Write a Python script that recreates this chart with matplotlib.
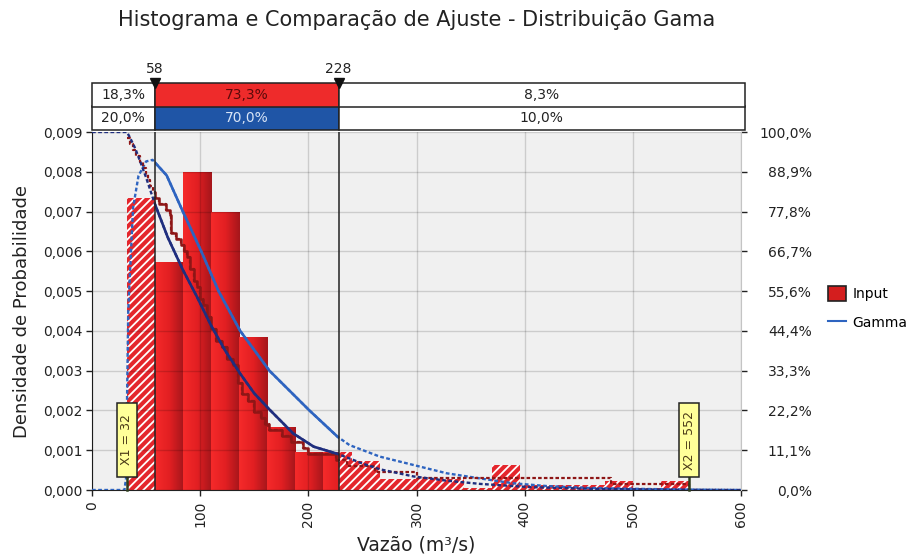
import numpy as np
import matplotlib
matplotlib.use("Agg")
import matplotlib.pyplot as plt
from matplotlib.patches import Rectangle, Patch
from matplotlib.lines import Line2D
from matplotlib.colors import LinearSegmentedColormap
from matplotlib.ticker import FixedLocator, FuncFormatter

plt.rcParams['font.family'] = ['DejaVu Sans']
plt.rcParams['hatch.linewidth'] = 1.3

# ---------------- data ----------------
# histogram of the input sample (m3/s) as probability density
bin_edges = [32, 58, 84, 110, 136, 162, 188, 214, 240, 266, 292,
             318, 344, 370, 396, 422, 448, 474, 500, 526, 552]
bin_density = [0.00734, 0.00573, 0.00800, 0.00700, 0.00384, 0.00158,
               0.00095, 0.00095, 0.00072, 0.00028, 0.00028, 0.00028,
               0.00004, 0.00062, 0.00012, 0.00012, 0.00012, 0.00022,
               0.00006, 0.00023]

# fitted Gamma density
gamma_pdf_x = [0, 30, 31.5, 32.5, 33.5, 35, 38, 43, 50, 56, 60, 69, 84,
               101, 117, 137, 164, 201, 227, 238, 266, 297, 328, 359,
               389, 420, 460, 500, 552, 600]
gamma_pdf_y = [0, 0, 0.0003, 0.0025, 0.0045, 0.0054, 0.0071, 0.0079,
               0.00826, 0.00830, 0.00818, 0.00791, 0.0070, 0.0060,
               0.0050, 0.0040, 0.0030, 0.0020, 0.00134, 0.00113,
               0.00084, 0.00063, 0.00042, 0.00029, 0.00017, 0.0001,
               0.00005, 0.00003, 0.00001, 0]

# fitted Gamma descending cumulative (%)
gamma_cdf_x = [0, 32, 33, 35, 40, 45, 50, 58, 70, 84, 97, 110, 123, 137,
               150, 164, 186, 205, 228, 250, 266, 297, 328, 359, 405,
               460, 520, 600]
gamma_cdf_pct = [100, 100, 99.6, 98.5, 95.4, 91.4, 87.3, 80, 70.6, 61.5,
                 54, 46, 39, 32.5, 27, 22.5, 15.8, 12.1, 10, 7.4, 5.8,
                 3.8, 2.6, 1.7, 0.8, 0.35, 0.12, 0]

# input descending cumulative (%), step positions
input_cdf_x = [32, 35, 38, 41, 44, 47, 50, 52, 54, 56, 58, 62, 68, 72,
               73, 78, 82, 85, 88, 91, 94, 97, 100, 103, 106, 110, 115,
               120, 125, 130, 135, 139, 144, 150, 156, 160, 164, 176,
               184, 195, 200, 226, 236, 262, 300, 480, 552]
input_cdf_pct = [98.3, 96.7, 95.0, 93.3, 91.7, 90.0, 88.3, 86.7, 85.0,
                 83.3, 81.7, 80.0, 78.3, 76.7, 71.7, 70.0, 68.3, 66.7,
                 65.0, 61.7, 58.3, 56.7, 53.3, 51.7, 48.3, 45.0, 41.7,
                 40.0, 36.7, 35.0, 30.0, 26.7, 25.0, 21.7, 20.0, 18.3,
                 16.7, 15.0, 13.3, 11.7, 10.0, 8.3, 6.7, 5.0, 3.3, 1.7, 0.0]

# delimiters and probabilities of the three regions
delim_low, delim_high = 58, 228
input_probs = ["18,3%", "73,3%", "8,3%"]
gamma_probs = ["20,0%", "70,0%", "10,0%"]
x_min_label, x_max_label = 32, 552

x_ticks = [0, 100, 200, 300, 400, 500, 600]
y_ticks = [0.000, 0.001, 0.002, 0.003, 0.004, 0.005, 0.006, 0.007, 0.008, 0.009]
pct_ticks = list(np.linspace(0, 100, 10))

# ---------------- colours ----------------
RED = '#E4262C'
BLUE = '#2E64C0'
NAVY = '#1F2E7E'
DARKRED = '#8E1616'
BG = '#F0F0F0'
TXT = '#222222'
bar_cmap = LinearSegmentedColormap.from_list('bar', ['#F52A2A', '#E21F22', '#A5161B'])

W, H = 907, 557
fig = plt.figure(figsize=(W / 100, H / 100), dpi=100)

L, R, B, T = 92, 741, 490, 132
ax = fig.add_axes([L / W, 1 - B / H, (R - L) / W, (B - T) / H])
ax.set_facecolor(BG)
ax2 = ax.twinx()

# ---------------- histogram ----------------
def add_piece(a, b, h, left, right, solid):
    if solid:
        bars = ax.bar(a, h, width=b - a, align='edge', color='#D82020',
                      linewidth=0, zorder=1.2)
        grad = np.linspace(0, 1, 64).reshape(1, -1)
        im = ax.imshow(grad, extent=(left, right, 0, h), aspect='auto',
                       cmap=bar_cmap, interpolation='bilinear', zorder=1.3)
        im.set_clip_path(bars.patches[0])
    else:
        ax.bar(a, h, width=b - a, align='edge', facecolor=RED,
               edgecolor='white', linewidth=0, hatch='////', zorder=1.2)

for left, right, h in zip(bin_edges[:-1], bin_edges[1:], bin_density):
    if h <= 0:
        continue
    a, b = left, min(right, delim_low)
    if b > a:
        add_piece(a, b, h, left, right, False)
    a, b = max(left, delim_low), min(right, delim_high)
    if b > a:
        add_piece(a, b, h, left, right, True)
    a, b = max(left, delim_high), right
    if b > a:
        add_piece(a, b, h, left, right, False)

# ---------------- curves ----------------
def inside_clip(axis):
    return Rectangle((delim_low, -1e3), delim_high - delim_low, 2e3,
                     transform=axis.transData)

dash = (0, (1.6, 1.0))

ax.plot(gamma_pdf_x, gamma_pdf_y, color=BLUE, lw=1.7, ls=dash, zorder=3)
ln, = ax.plot(gamma_pdf_x, gamma_pdf_y, color=BLUE, lw=1.9, zorder=3.1)
ln.set_clip_path(inside_clip(ax))

ax2.step(input_cdf_x, input_cdf_pct, where='post', color=DARKRED, lw=1.6,
         ls=dash, zorder=3)
ln, = ax2.step(input_cdf_x, input_cdf_pct, where='post', color=DARKRED,
               lw=1.8, zorder=3.1)
ln.set_clip_path(inside_clip(ax2))

ax2.plot(gamma_cdf_x, gamma_cdf_pct, color=NAVY, lw=1.7, ls=dash, zorder=3.2)
ln, = ax2.plot(gamma_cdf_x, gamma_cdf_pct, color=NAVY, lw=1.9, zorder=3.3)
ln.set_clip_path(inside_clip(ax2))

# delimiter lines
for xd in (delim_low, delim_high):
    ax2.axvline(xd, color=TXT, lw=1.1, zorder=4)

# min / max markers with yellow tags
tag_w = 18.5            # tag width in x units
tag_y0, tag_y1 = 3.6, 24.3
for xv, name in ((x_min_label, 'X1'), (x_max_label, 'X2')):
    ax2.plot([xv, xv], [0, tag_y0], color='#2F3F1F', lw=1.8, zorder=5,
             clip_on=False)
    ax2.add_patch(Rectangle((xv - tag_w / 2, tag_y0), tag_w, tag_y1 - tag_y0,
                            fc='#FFFF99', ec=TXT, lw=1.1, zorder=6))
    ax2.text(xv, (tag_y0 + tag_y1) / 2, f'{name} = {xv}', rotation=90,
             ha='center', va='center', fontsize=9, color='#4A3A18', zorder=7)

# ---------------- axes styling ----------------
ax.set_xlim(0, 600)
ax.set_ylim(0, 0.009)
ax2.set_ylim(0, 100)

ax.xaxis.set_major_locator(FixedLocator(x_ticks))
ax.yaxis.set_major_locator(FixedLocator(y_ticks))
ax.yaxis.set_major_formatter(FuncFormatter(lambda v, p: f'{v:.3f}'.replace('.', ',')))
ax.xaxis.set_major_formatter(FuncFormatter(lambda v, p: f'{v:.0f}'))
ax.tick_params(axis='x', length=4, width=1, pad=4, labelsize=10,
               labelrotation=90, color=TXT, labelcolor=TXT)
ax.tick_params(axis='y', length=4, width=1, pad=3, labelsize=10,
               color=TXT, labelcolor=TXT)
for lab in ax.get_xticklabels():
    lab.set_verticalalignment('top')
ax.set_axisbelow(False)
ax.grid(True, color='black', alpha=0.15, lw=1.0, zorder=2.5)

ax2.yaxis.set_major_locator(FixedLocator(pct_ticks))
ax2.yaxis.set_major_formatter(FuncFormatter(lambda v, p: f'{v:.1f}%'.replace('.', ',')))
ax2.tick_params(axis='y', length=4, width=1, pad=47, labelsize=10,
                color=TXT, labelcolor=TXT)
for lab in ax2.get_yticklabels():
    lab.set_horizontalalignment('right')

for s in ('top', 'right'):
    ax.spines[s].set_visible(False)
for s in ('top', 'left', 'bottom'):
    ax2.spines[s].set_visible(False)
ax2.spines['right'].set_color('#C4C4C4')
ax.spines['left'].set_color(TXT)
ax.spines['bottom'].set_color(TXT)

# ---------------- probability bar on top ----------------
TL, TR, TT, TB = 92, 745, 83, 130
axt = fig.add_axes([TL / W, 1 - TB / H, (TR - TL) / W, (TB - TT) / H])
xmax_t = 600 * (TR - TL) / (R - L)
axt.set_xlim(0, xmax_t)
axt.set_ylim(0, 2)
axt.axis('off')
bounds = [0, delim_low, delim_high, xmax_t]
for row, (labels, mid_color, mid_text) in enumerate(
        ((gamma_probs, '#1F55A6', '#D8E4F6'), (input_probs, '#EE2B2B', '#5A0A0A'))):
    for i in range(3):
        x0, x1 = bounds[i], bounds[i + 1]
        fc = mid_color if i == 1 else 'white'
        axt.add_patch(Rectangle((x0, row), x1 - x0, 1, fc=fc, ec=TXT,
                                lw=1.1, clip_on=False))
        axt.text((x0 + x1) / 2, row + 0.5, labels[i], ha='center', va='center',
                 fontsize=10, color=mid_text if i == 1 else TXT)
for xd in (delim_low, delim_high):
    axt.plot([xd], [2.0], marker='v', color='#111111', markersize=7,
             clip_on=False, zorder=5)
    axt.annotate(f'{xd}', (xd, 2.0), xytext=(0, 5), textcoords='offset points',
                 ha='center', va='bottom', fontsize=10, color=TXT)

# ---------------- texts ----------------
fig.text(417 / W, 1 - 20 / H, 'Histograma e Comparação de Ajuste - Distribuição Gama',
         ha='center', va='center', fontsize=15, color=TXT)
fig.text(22 / W, 1 - 311 / H, 'Densidade de Probabilidade', rotation=90,
         ha='center', va='center', fontsize=13, color=TXT)
fig.text(416 / W, 1 - 545 / H, 'Vazão (m³/s)', ha='center', va='center',
         fontsize=13.5, color=TXT)

handles = [Patch(facecolor='#D41E1E', edgecolor=TXT, linewidth=1.2),
           Line2D([], [], color=BLUE, lw=1.5)]
fig.legend(handles, ['Input', 'Gamma'], loc='upper left',
           bbox_to_anchor=(828 / W, 1 - 286 / H), frameon=False, fontsize=10,
           handlelength=1.3, handleheight=1.3, handletextpad=0.45,
           labelspacing=1.0, borderpad=0, borderaxespad=0)

fig.savefig('out.png', dpi=100)
